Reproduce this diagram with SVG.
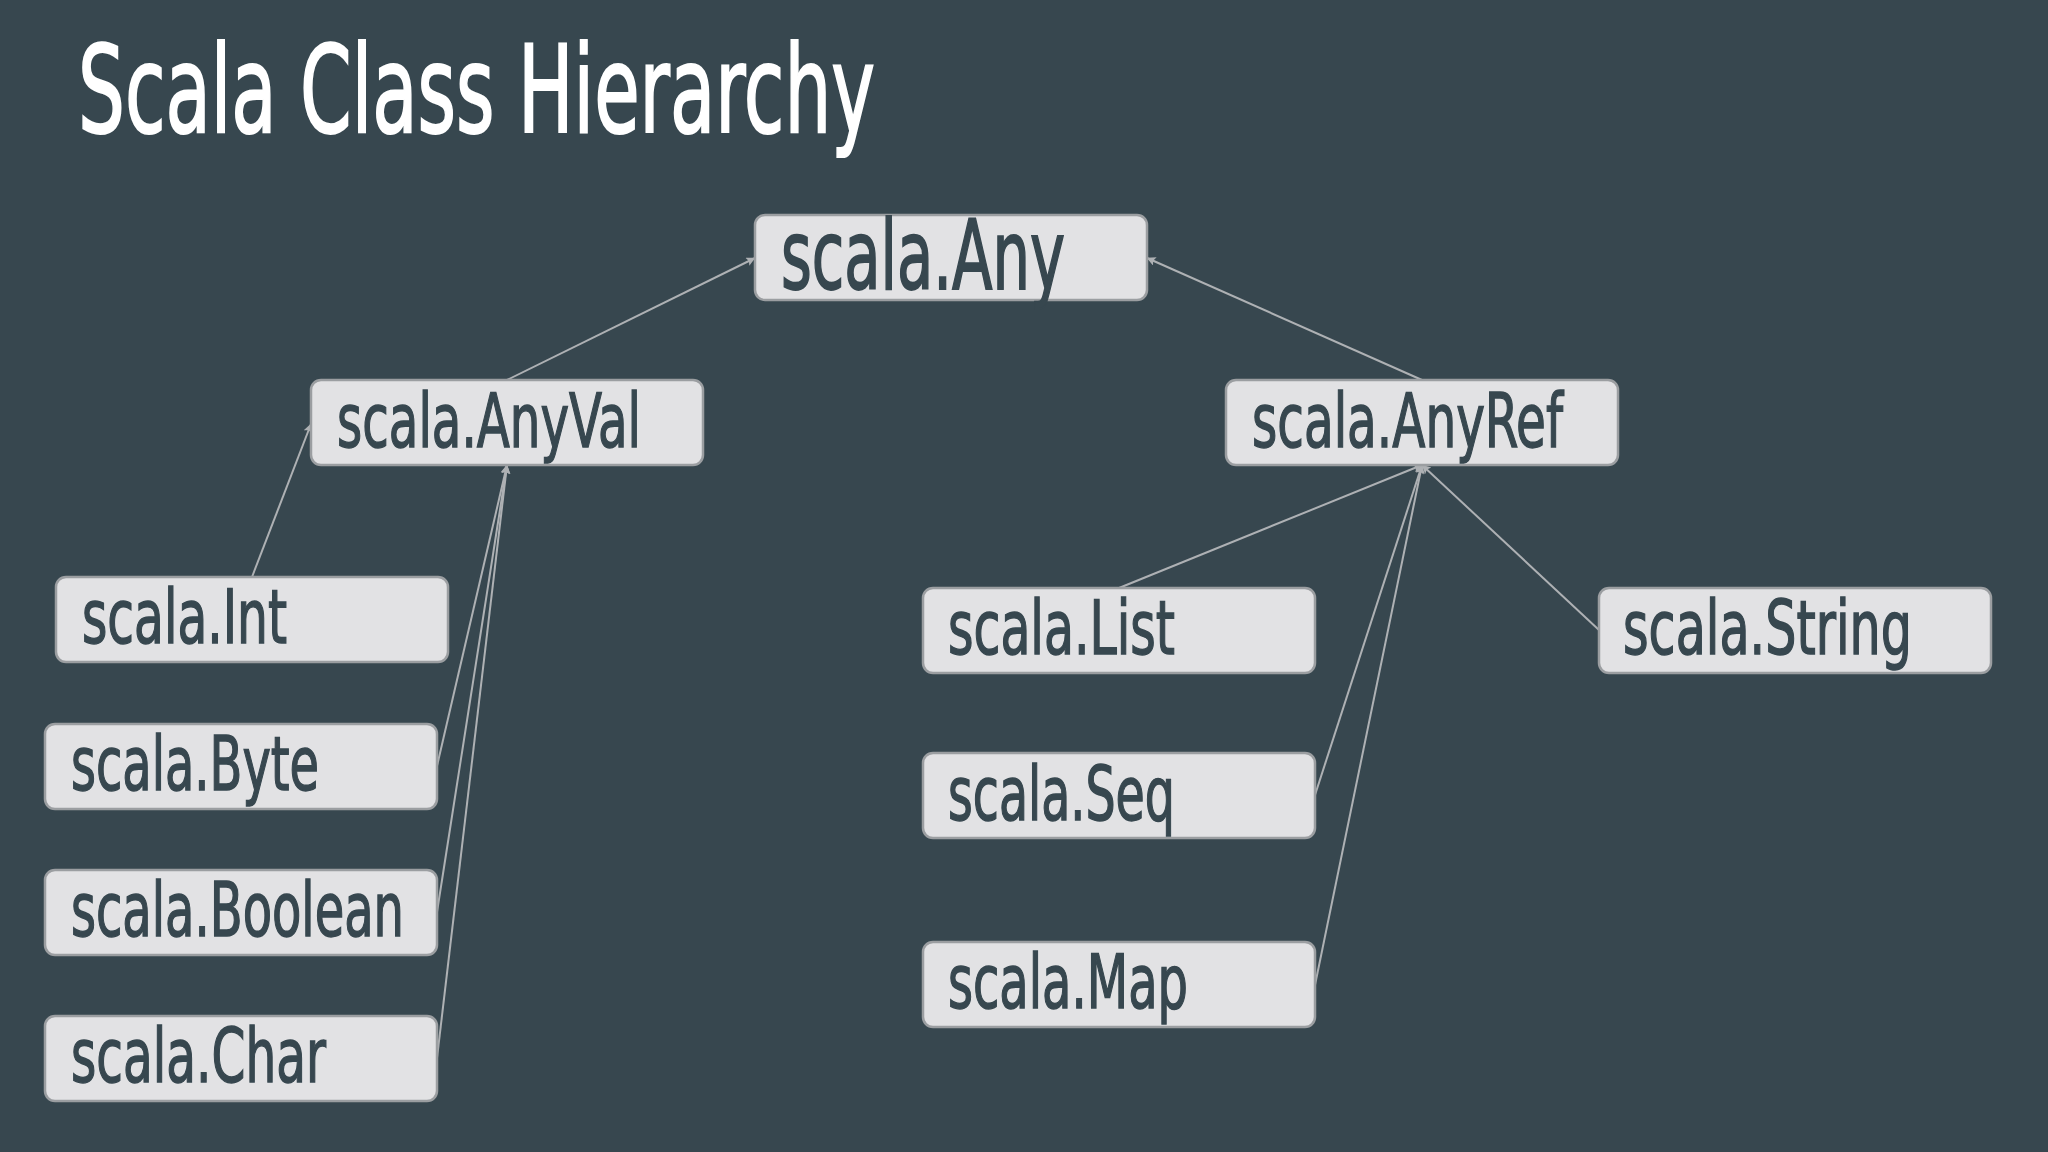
<svg xmlns="http://www.w3.org/2000/svg" width="2048" height="1152" viewBox="0 0 2048 1152">
  <style>
    .bg { fill: #37474f; }
    .title { font-family: "Liberation Sans Narrow", "DejaVu Sans Condensed", "Liberation Sans", sans-serif; font-size: 122px; fill: #ffffff; stroke: #ffffff; stroke-width: 2; }
    .box { fill: #e2e2e4; stroke: #9b9ea1; stroke-width: 2.5; }
    .lbl { font-family: "Liberation Sans Narrow", "DejaVu Sans Condensed", "Liberation Sans", sans-serif; font-size: 74px; fill: #37474f; stroke: #37474f; stroke-width: 1.4; }
    .lbl-big { font-size: 96px; stroke-width: 1.8; }
    .edge { stroke: #aeb1b4; stroke-width: 2; fill: none; marker-end: url(#arr); }
  </style>
  <defs>
    <marker id="arr" viewBox="0 0 10 10" refX="9.5" refY="5" markerWidth="12" markerHeight="9" orient="auto" markerUnits="userSpaceOnUse">
      <path d="M0,0 L10,5 L0,10 L2,5 Z" fill="#aeb1b4"/>
    </marker>
  </defs>
  <rect class="bg" x="0" y="0" width="2048" height="1152"/>
  <text class="title" x="78" y="132" textLength="797" lengthAdjust="spacingAndGlyphs">Scala Class Hierarchy</text>

  <g id="connectors">
    <line class="edge" x1="507" y1="380" x2="755" y2="258"/>
    <line class="edge" x1="1422" y1="380" x2="1147" y2="258"/>
    <line class="edge" x1="252" y1="577" x2="311" y2="424"/>
    <line class="edge" x1="437" y1="766" x2="507" y2="465"/>
    <line class="edge" x1="437" y1="912" x2="507" y2="465"/>
    <line class="edge" x1="437" y1="1058" x2="507" y2="465"/>
    <line class="edge" x1="1119" y1="588" x2="1422" y2="465"/>
    <line class="edge" x1="1315" y1="795" x2="1422" y2="465"/>
    <line class="edge" x1="1315" y1="985" x2="1422" y2="465"/>
    <line class="edge" x1="1599" y1="630" x2="1422" y2="465"/>
  </g>

  <g id="node-any">
    <rect class="box" x="755" y="215" width="392" height="85" rx="10"/>
    <text class="lbl lbl-big" x="781" y="289" textLength="284" lengthAdjust="spacingAndGlyphs">scala.Any</text>
  </g>
  <g id="node-anyval">
    <rect class="box" x="311" y="380" width="392" height="85" rx="10"/>
    <text class="lbl" x="337" y="447" textLength="304" lengthAdjust="spacingAndGlyphs">scala.AnyVal</text>
  </g>
  <g id="node-anyref">
    <rect class="box" x="1226" y="380" width="392" height="85" rx="10"/>
    <text class="lbl" x="1252" y="447" textLength="311" lengthAdjust="spacingAndGlyphs">scala.AnyRef</text>
  </g>
  <g id="node-int">
    <rect class="box" x="56" y="577" width="392" height="85" rx="10"/>
    <text class="lbl" x="82" y="643" textLength="205" lengthAdjust="spacingAndGlyphs">scala.Int</text>
  </g>
  <g id="node-byte">
    <rect class="box" x="45" y="724" width="392" height="85" rx="10"/>
    <text class="lbl" x="71" y="790" textLength="248" lengthAdjust="spacingAndGlyphs">scala.Byte</text>
  </g>
  <g id="node-boolean">
    <rect class="box" x="45" y="870" width="392" height="85" rx="10"/>
    <text class="lbl" x="71" y="936" textLength="333" lengthAdjust="spacingAndGlyphs">scala.Boolean</text>
  </g>
  <g id="node-char">
    <rect class="box" x="45" y="1016" width="392" height="85" rx="10"/>
    <text class="lbl" x="71" y="1082" textLength="255" lengthAdjust="spacingAndGlyphs">scala.Char</text>
  </g>
  <g id="node-list">
    <rect class="box" x="923" y="588" width="392" height="85" rx="10"/>
    <text class="lbl" x="948" y="654" textLength="227" lengthAdjust="spacingAndGlyphs">scala.List</text>
  </g>
  <g id="node-seq">
    <rect class="box" x="923" y="753" width="392" height="85" rx="10"/>
    <text class="lbl" x="948" y="820" textLength="227" lengthAdjust="spacingAndGlyphs">scala.Seq</text>
  </g>
  <g id="node-map">
    <rect class="box" x="923" y="942" width="392" height="85" rx="10"/>
    <text class="lbl" x="948" y="1008" textLength="240" lengthAdjust="spacingAndGlyphs">scala.Map</text>
  </g>
  <g id="node-string">
    <rect class="box" x="1599" y="588" width="392" height="85" rx="10"/>
    <text class="lbl" x="1623" y="654" textLength="289" lengthAdjust="spacingAndGlyphs">scala.String</text>
  </g>
</svg>
